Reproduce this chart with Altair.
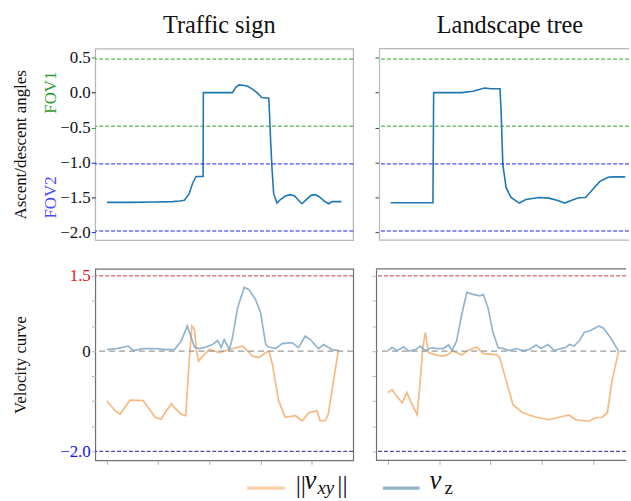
import altair as alt
import pandas as pd

FONT = "Liberation Serif"

# ---------------- data: ascent/descent angles ----------------
ts_t = [0, 10, 20, 28, 31, 33, 35, 36.5, 38, 41,
        41.1, 45, 50, 53.5, 55, 56.3, 58, 60, 62, 64,
        66, 69, 69.3, 69.8, 70.4, 71.1, 72.5, 74, 76, 78.2,
        80, 82, 83.1, 85, 87, 88.7, 90.5, 92.5, 94.6, 96,
        100]
ts_angle = [-1.57, -1.57, -1.565, -1.56, -1.55, -1.54, -1.45, -1.3, -1.2, -1.2,
            0.0, 0.0, 0.0, 0.0, 0.08, 0.11, 0.105, 0.09, 0.05, 0.0,
            -0.07, -0.08, -0.3, -0.7, -1.1, -1.45, -1.58, -1.53, -1.48, -1.46,
            -1.48, -1.55, -1.59, -1.53, -1.47, -1.46, -1.49, -1.55, -1.59, -1.56,
            -1.56]

lt_t = [0, 10, 18.0, 18.3, 25, 30.2, 35.1, 40.0, 42.8, 46.6,
        47.1, 47.8, 49.2, 51.3, 54.8, 57.6, 63.2, 67.4, 70.9, 74.2,
        77.2, 80.1, 83.1, 85.7, 89.2, 92.7, 94.8, 100]
lt_angle = [-1.575, -1.575, -1.575, 0.0, 0.0, 0.0, 0.02, 0.065, 0.056, 0.056,
            -0.3, -1.03, -1.36, -1.5, -1.58, -1.53, -1.5, -1.51, -1.54, -1.58,
            -1.54, -1.505, -1.5, -1.40, -1.27, -1.21, -1.205, -1.205]

FOV1 = [0.48, -0.48]
FOV2 = [-1.02, -1.98]
ANGLE_TICKS = [0.5, 0.0, -0.5, -1.0, -1.5, -2.0]

# ---------------- data: velocity curves ----------------
ts_vz_t = [0, 0.19, 0.42, 0.52, 0.71, 0.97, 1.16, 1.32, 1.45, 1.57,
           1.65, 1.71, 1.81, 1.94, 2.06, 2.16, 2.23, 2.29, 2.39, 2.45,
           2.55, 2.68, 2.77, 2.90, 3.0, 3.10, 3.16, 3.29, 3.42, 3.61,
           3.74, 3.87, 3.97, 4.13, 4.23, 4.39, 4.52]
ts_vz = [0.03, 0.05, 0.10, 0.01, 0.05, 0.05, 0.03, 0.03, 0.20, 0.50,
         0.26, 0.08, 0.05, 0.08, 0.13, 0.21, 0.07, 0.23, 0.03, 0.26,
         0.86, 1.27, 1.23, 1.03, 0.76, 0.13, 0.08, 0.05, 0.15, 0.17,
         0.07, 0.30, 0.23, 0.05, 0.13, 0.03, 0.01]

ts_vxy_t = [0, 0.16, 0.26, 0.45, 0.71, 0.81, 0.94, 1.06, 1.16, 1.26,
            1.32, 1.45, 1.54, 1.61, 1.66, 1.71, 1.75, 1.79, 1.87, 2.0,
            2.19, 2.39, 2.65, 2.84, 2.97, 3.10, 3.16, 3.23, 3.35, 3.48,
            3.68, 3.81, 3.94, 4.10, 4.16, 4.26, 4.32, 4.42, 4.52]
ts_vxy = [-0.99, -1.19, -1.26, -0.98, -0.99, -1.13, -1.32, -1.36, -1.19, -1.05,
          -1.13, -1.26, -1.29, -0.13, 0.50, 0.43, 0.0, -0.20, -0.10, 0.03,
          -0.03, 0.03, 0.10, -0.10, -0.13, -0.03, 0.0, -0.26, -0.99, -1.32,
          -1.29, -1.39, -1.23, -1.19, -1.39, -1.39, -1.26, -0.60, 0.03]

lt_vz_t = [0, 0.08, 0.18, 0.31, 0.41, 0.54, 0.63, 0.73, 0.86, 0.95,
           1.08, 1.18, 1.25, 1.34, 1.44, 1.54, 1.66, 1.79, 1.86, 1.95,
           2.05, 2.15, 2.25, 2.37, 2.50, 2.63, 2.76, 2.89, 2.99, 3.12,
           3.25, 3.37, 3.47, 3.54, 3.63, 3.73, 3.83, 3.95, 4.12, 4.21,
           4.34, 4.50]
lt_vz = [0.01, 0.07, 0.01, 0.08, 0.0, 0.03, 0.10, 0.01, 0.07, 0.05,
         0.05, 0.12, 0.01, 0.20, 0.73, 1.17, 1.13, 1.10, 1.13, 0.87,
         0.37, 0.07, 0.05, 0.01, 0.05, 0.01, 0.03, 0.12, 0.05, 0.13,
         0.01, 0.05, 0.07, 0.13, 0.10, 0.20, 0.37, 0.41, 0.50, 0.45,
         0.27, 0.0]

lt_vxy_t = [0, 0.08, 0.15, 0.28, 0.37, 0.44, 0.57, 0.63, 0.68, 0.73,
            0.79, 0.95, 1.08, 1.18, 1.25, 1.34, 1.44, 1.54, 1.73, 1.86,
            2.12, 2.18, 2.31, 2.44, 2.63, 2.89, 3.15, 3.41, 3.54, 3.66,
            3.92, 4.05, 4.18, 4.28, 4.37, 4.50]
lt_vxy = [-0.83, -0.77, -0.87, -1.03, -0.83, -1.0, -1.27, -0.60, 0.07, 0.37,
          -0.03, -0.08, -0.10, -0.07, 0.0, -0.03, -0.08, 0.0, 0.08, -0.05,
          -0.07, -0.13, -0.60, -1.07, -1.23, -1.32, -1.37, -1.30, -1.28, -1.37,
          -1.40, -1.33, -1.32, -1.23, -0.60, 0.0]

VEL_TICKS = [1.5, 1.0, 0.5, 0.0, -0.5, -1.0, -1.5, -2.0]
VEL_MAX = 1.5
VEL_MIN = -2.0
TIME_TICKS = [0, 1, 2, 3, 4]

# ---------------- styles ----------------
GREEN = "#2ca02c"
BLUE = "#1c1cf0"
LINE_BLUE = "#1f77b4"
ORANGE = "#f2a862"
VBLUE = "#7fa8c4"
TOP_FRAME = "#b8b8b8"
BOT_FRAME = "#707070"

W_L, W_R = 260, 252
H_TOP, H_BOT = 193, 193
ANG_DOM = [-2.11, 0.63]
VEL_DOM = [-2.18, 1.64]
TOP_X_L = [-5, 105]
TOP_X_R = [-5, 101.6]
BOT_X_L = [-0.226, 4.806]
BOT_X_R = [-0.232, 4.645]

PAD_L, PAD_T = 11, 10
FRAME_X0, FRAME_Y0_BOT = 95, 267   # where the bottom-left frame sits


def frame_edges(width, height, color, sw):
    base = alt.Chart(pd.DataFrame({"k": [0]}))
    top = base.mark_rule(color=color, strokeWidth=sw).encode(
        x=alt.value(0), x2=alt.value(width), y=alt.value(0))
    bot = base.mark_rule(color=color, strokeWidth=sw).encode(
        x=alt.value(0), x2=alt.value(width), y=alt.value(height))
    return [top, bot]


def angle_panel(t, a, title, width, xdom, left, dx):
    df = pd.DataFrame({"t": t, "a": a})
    yscale = alt.Scale(domain=ANG_DOM, nice=False, zero=False)
    tick_color = {"condition": [
        {"test": "abs(datum.value) == 0.5", "value": GREEN},
        {"test": "datum.value == -1 || datum.value == -2", "value": BLUE}],
        "value": "#222222"}
    if left:
        yaxis = alt.Axis(values=ANGLE_TICKS, format=".1f", labelFont=FONT,
                         labelFontSize=17, labelColor="#111111", tickSize=4,
                         tickColor=tick_color, grid=False, domain=False,
                         labelOverlap=False, labelFlush=False, labelBound=False,
                         title="Ascent/descent angles", titleX=-75,
                         titleY=H_TOP / 2, titleBaseline="middle",
                         titleFont=FONT, titleFontSize=17,
                         titleFontWeight="normal", titleColor="#111111",
                         labelPadding=1)
    else:
        yaxis = alt.Axis(values=ANGLE_TICKS, labels=False, tickSize=4,
                         tickColor="#444444", grid=False, domain=True,
                         domainColor=TOP_FRAME, domainWidth=1.2, title=None)

    def Y(field):
        return alt.Y(field, scale=yscale, axis=yaxis)

    x = alt.X("t:Q", scale=alt.Scale(domain=xdom, nice=False, zero=False),
              axis=None)
    line = alt.Chart(df).mark_line(color=LINE_BLUE, strokeWidth=1.6,
                                   clip=True).encode(x=x, y=Y("a:Q"))
    fov1 = alt.Chart(pd.DataFrame({"a": FOV1})).mark_rule(
        color=GREEN, strokeDash=[4, 2], strokeWidth=1).encode(y=Y("a:Q"))
    fov2 = alt.Chart(pd.DataFrame({"a": FOV2})).mark_rule(
        color=BLUE, strokeDash=[4, 2], strokeWidth=1).encode(y=Y("a:Q"))
    layers = [line, fov1, fov2]
    if left:
        lab = pd.DataFrame({"a": [sum(FOV1) / 2], "label": ["FOV1"]})
        lab2 = pd.DataFrame({"a": [sum(FOV2) / 2], "label": ["FOV2"]})
        layers.append(alt.Chart(lab).mark_text(
            angle=270, font=FONT, fontSize=17, color="#2e9a2e",
            align="center", baseline="middle").encode(
            x=alt.value(-45), y=Y("a:Q"), text="label:N"))
        layers.append(alt.Chart(lab2).mark_text(
            angle=270, font=FONT, fontSize=17, color="#4a4aff",
            align="center", baseline="middle").encode(
            x=alt.value(-45), y=Y("a:Q"), text="label:N"))
        view = alt.ViewBackground(stroke=TOP_FRAME, strokeWidth=1.3)
    else:
        layers += frame_edges(width, H_TOP, TOP_FRAME, 1.3)
        view = alt.ViewBackground(stroke="transparent")
    return alt.layer(*layers).properties(
        width=width, height=H_TOP, view=view,
        title=alt.TitleParams(title, font=FONT, fontSize=24.5,
                              fontWeight="normal", color="#111111",
                              dx=dx, offset=10))


one = alt.Chart(pd.DataFrame({"k": [0]}))


def txt(s, x, y, size, italic=True):
    kw = dict(text=s, font=FONT, fontSize=size, color="#111111",
              align="left", baseline="alphabetic")
    if italic:
        kw["fontStyle"] = "italic"
    return one.mark_text(**kw).encode(x=alt.value(x - FRAME_X0),
                                      y=alt.value(y - FRAME_Y0_BOT))


def legend_layers():
    return [
        one.mark_rule(color=ORANGE, strokeWidth=3.5, opacity=0.55).encode(
            x=alt.value(248 - FRAME_X0), x2=alt.value(286 - FRAME_X0),
            y=alt.value(488 - FRAME_Y0_BOT)),
        txt("||", 297, 493, 26, italic=False),
        txt("v", 306, 489, 27),
        txt("xy", 319, 494, 19),
        txt("||", 339, 493, 26, italic=False),
        one.mark_rule(color=VBLUE, strokeWidth=3.5, opacity=0.85).encode(
            x=alt.value(385 - FRAME_X0), x2=alt.value(422 - FRAME_X0),
            y=alt.value(488 - FRAME_Y0_BOT)),
        txt("v", 432, 489, 27),
        txt("z", 447, 494, 19, italic=False),
    ]


def velocity_panel(vz_t, vz, vxy_t, vxy, width, xdom, left):
    yscale = alt.Scale(domain=VEL_DOM, nice=False, zero=False)
    xscale = alt.Scale(domain=xdom, nice=False, zero=False)
    xaxis = alt.Axis(values=TIME_TICKS, labels=False, tickSize=4,
                     tickColor="#aaaaaa", grid=False, domain=False, title=None)
    if left:
        yaxis = alt.Axis(
            values=VEL_TICKS,
            labelExpr=("datum.value == 0 ? '0' : (datum.value == 1.5 || "
                       "datum.value == -2) ? format(datum.value, '.1f') : ''"),
            labelColor={"condition": [
                {"test": "datum.value == 1.5", "value": "#ee1111"},
                {"test": "datum.value == -2", "value": "#1111ee"}],
                "value": "#111111"},
            labelFont=FONT, labelFontSize=17, tickSize=4,
            labelOverlap=False, labelFlush=False, labelBound=False,
            tickColor="#bbbbbb", grid=False, domain=False,
            title="Velocity curve", titleX=-75, titleY=H_BOT / 2,
            titleBaseline="middle", titleFont=FONT, titleFontSize=17,
            titleFontWeight="normal", titleColor="#111111", labelPadding=1)
    else:
        yaxis = alt.Axis(values=VEL_TICKS, labels=False, tickSize=4,
                         tickColor="#bbbbbb", grid=False, domain=True,
                         domainColor=BOT_FRAME, domainWidth=1.2, title=None)

    def Y(field):
        return alt.Y(field, scale=yscale, axis=yaxis)

    def X(field):
        return alt.X(field, scale=xscale, axis=xaxis)

    d1 = pd.DataFrame({"t": vxy_t, "v": vxy})
    d2 = pd.DataFrame({"t": vz_t, "v": vz})
    l1 = alt.Chart(d1).mark_line(color=ORANGE, strokeWidth=1.7, opacity=0.8,
                                 clip=True).encode(x=X("t:Q"), y=Y("v:Q"))
    l2 = alt.Chart(d2).mark_line(color=VBLUE, strokeWidth=1.7, opacity=0.85,
                                 clip=True).encode(x=X("t:Q"), y=Y("v:Q"))
    r_max = alt.Chart(pd.DataFrame({"v": [VEL_MAX]})).mark_rule(
        color="#c43a3a", strokeDash=[4, 2], strokeWidth=1).encode(y=Y("v:Q"))
    r_min = alt.Chart(pd.DataFrame({"v": [VEL_MIN]})).mark_rule(
        color="#1f1f8f", strokeDash=[4, 2], strokeWidth=1).encode(y=Y("v:Q"))
    r_zero = alt.Chart(pd.DataFrame({"v": [0.0]})).mark_rule(
        color="#9a9a9a", strokeDash=[6, 4], strokeWidth=1.2).encode(y=Y("v:Q"))
    layers = [l1, r_zero, r_max, r_min, l2]
    if left:
        layers += legend_layers()
        view = alt.ViewBackground(stroke=BOT_FRAME, strokeWidth=1.2)
    else:
        layers += frame_edges(width, H_BOT, BOT_FRAME, 1.2)
        view = alt.ViewBackground(stroke="transparent")
    return alt.layer(*layers).properties(width=width, height=H_BOT, view=view)


tl = angle_panel(ts_t, ts_angle, "Traffic sign", W_L, TOP_X_L, True, -5)
tr = angle_panel(lt_t, lt_angle, "Landscape tree", W_R, TOP_X_R, False, 6)
bl = velocity_panel(ts_vz_t, ts_vz, ts_vxy_t, ts_vxy, W_L, BOT_X_L, True)
br = velocity_panel(lt_vz_t, lt_vz, lt_vxy_t, lt_vxy, W_R, BOT_X_R, False)

chart = alt.vconcat(
    alt.hconcat(tl, tr, spacing=19),
    alt.hconcat(bl, br, spacing=23, bounds="flush"),
    spacing=24,
).properties(
    padding={"left": PAD_L, "top": PAD_T, "right": 0, "bottom": 0},
    background="white",
).configure_view(stroke=None)

chart.save("out.html", embed_options={"renderer": "svg", "actions": False})
